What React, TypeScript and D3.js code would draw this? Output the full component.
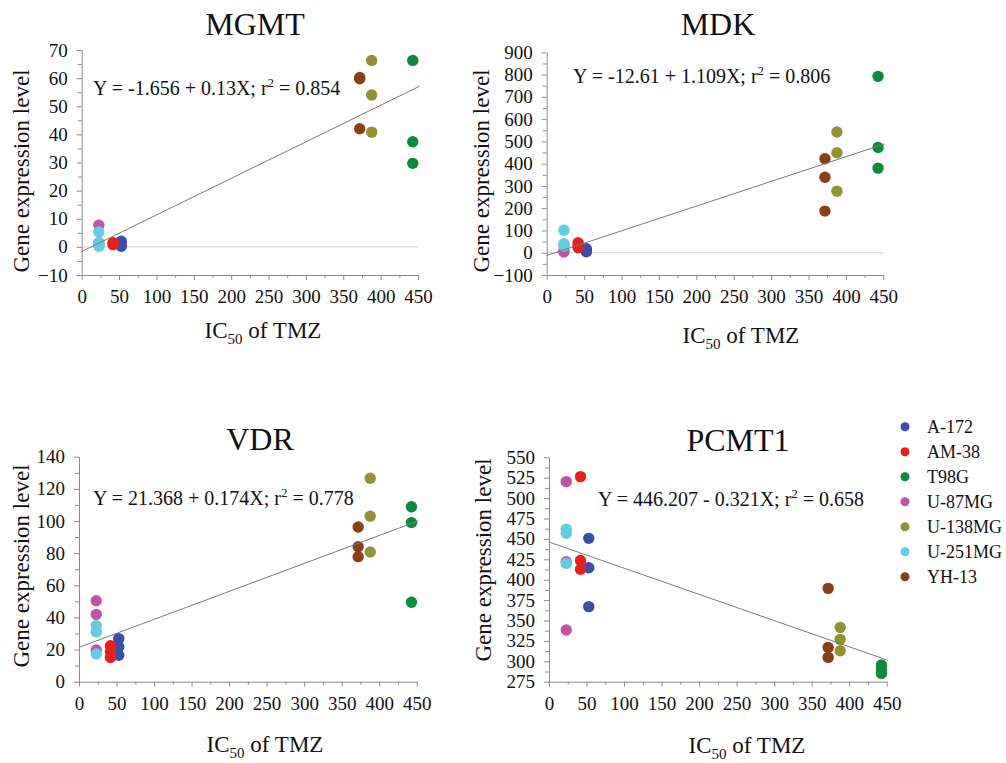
import { useEffect, useRef } from "react";
import * as d3 from "d3";

// cell lines, legend order (also draw order)
const cellLines = ["A-172", "AM-38", "T98G", "U-87MG", "U-138MG", "U-251MG", "YH-13"];
const cellColors = ["#3b4ea8", "#e8201e", "#0c8a3e", "#c153a6", "#8f9334", "#62cde0", "#8a3f17"];
// IC50 of TMZ per cell line
const ic50 = [53, 42, 443, 23, 388, 23, 372];

// gene expression replicates per cell line
const mgmtValues = [
  [2.0, 1.0, 0.2],
  [1.5, 1.0, 0.8],
  [66.3, 37.4, 29.7],
  [7.7, 1.5, 0.5],
  [66.3, 54.0, 40.8],
  [5.3, 1.3, 0.2],
  [60.2, 59.8, 42.0],
];
const mdkValues = [
  [18, 10, 4],
  [45, 32, 22],
  [792, 473, 380],
  [3, 8, 35],
  [542, 449, 276],
  [101, 40, 30],
  [422, 339, 187],
];
const vdrValues = [
  [26.8, 21.8, 16.4],
  [22.4, 18.7, 15.1],
  [108.9, 99.0, 49.4],
  [50.4, 41.9, 19.7],
  [126.6, 103.0, 80.7],
  [34.9, 31.0, 17.2],
  [96.3, 84.0, 77.8],
];
const pcmt1Values = [
  [450.7, 414.7, 367],
  [526.3, 423.5, 412.7],
  [295.4, 289.3, 285.2],
  [520.2, 422, 338.3],
  [341.6, 326.9, 313],
  [462, 457, 420],
  [389.4, 317, 304.8],
];

const genes = ["MGMT", "MDK", "VDR", "PCMT1"];
const geneValues = [mgmtValues, mdkValues, vdrValues, pcmt1Values];
const yDomains = [[-10, 70], [-100, 900], [0, 140], [275, 550]];
const yStep = [10, 100, 20, 25];
const intercepts = [-1.656, -12.61, 21.368, 446.207];
const slopes = [0.13, 1.109, 0.174, -0.321];
const rSquared = [0.854, 0.806, 0.778, 0.658];
const xTicks = [0, 50, 100, 150, 200, 250, 300, 350, 400, 450];

const FONT = "Liberation Serif, Times New Roman, serif";

// panel placement on the page
const layout = [
  { x0: 81.7, x1: 418, yTop: 50, yBot: 275, title: [255, 35], eq: [93, 95], ylab: [29, 171], xlab: [263, 338], zero: true },
  { x0: 546.7, x1: 883.3, yTop: 52.3, yBot: 275, title: [718, 35], eq: [573, 83], ylab: [489, 171], xlab: [741, 343], zero: true },
  { x0: 79, x1: 416.7, yTop: 456.7, yBot: 681.7, title: [260, 450], eq: [93, 505], ylab: [29, 566], xlab: [265, 752], zero: false },
  { x0: 549, x1: 886.7, yTop: 457.3, yBot: 681.7, title: [738, 450.7], eq: [598, 506], ylab: [491, 560], xlab: [747, 753], zero: false },
];

const App = () => {
  const ref = useRef<SVGSVGElement>(null);

  useEffect(() => {
    document.body.style.margin = "0";
    const svg = d3.select(ref.current).attr("font-family", FONT);
    svg.selectAll("*").remove();

    genes.forEach((gene, gi) => {
      const L = layout[gi];
      const g = svg.append("g");
      const x = d3.scaleLinear().domain([0, 450]).range([L.x0, L.x1]);
      const y = d3.scaleLinear().domain(yDomains[gi]).range([L.yBot, L.yTop]);
      const [y0, y1] = yDomains[gi];
      const step = yStep[gi];
      const yMajor = d3.range(y0, y1 + step / 2, step);
      const yMinor = d3.range(y0 + step / 2, y1, step);
      const xMinor = d3.range(25, 450, 50);

      // zero line
      if (L.zero) {
        g.append("line")
          .attr("x1", x(0)).attr("x2", x(450))
          .attr("y1", y(0)).attr("y2", y(0))
          .attr("stroke", "#d4d4d4").attr("stroke-width", 1);
      }

      // y axis
      g.append("g").attr("transform", `translate(${L.x0},0)`)
        .call(d3.axisLeft(y).tickValues(yMajor).tickSize(5).tickSizeOuter(0).tickPadding(9).tickFormat(d3.format("d")))
        .attr("font-family", FONT).attr("font-size", 19);
      g.append("g").attr("transform", `translate(${L.x0},0)`)
        .call(d3.axisLeft(y).tickValues(yMinor).tickSize(4).tickSizeOuter(0).tickFormat(() => ""))
        .select(".domain").remove();

      // x axis
      g.append("g").attr("transform", `translate(0,${L.yBot})`)
        .call(d3.axisBottom(x).tickValues(xTicks).tickSize(5).tickSizeOuter(0).tickPadding(10).tickFormat(d3.format("d")))
        .attr("font-family", FONT).attr("font-size", 19);
      g.append("g").attr("transform", `translate(0,${L.yBot})`)
        .call(d3.axisBottom(x).tickValues(xMinor).tickSize(3).tickSizeOuter(0).tickFormat(() => ""))
        .select(".domain").remove();

      g.selectAll(".domain, .tick line").attr("stroke", "#8a8a8a");
      g.selectAll(".tick text").attr("fill", "#111");

      // points
      cellLines.forEach((name, ci) => {
        g.selectAll(`.pt${ci}`)
          .data(geneValues[gi][ci])
          .enter()
          .append("circle")
          .attr("cx", x(ic50[ci]))
          .attr("cy", (d) => y(d))
          .attr("r", 5.7)
          .attr("fill", cellColors[ci]);
      });

      // regression line
      const fit = (v: number) => intercepts[gi] + slopes[gi] * v;
      g.append("path")
        .datum([0, 452])
        .attr("d", d3.line<number>().x((d) => x(d)).y((d) => y(fit(d))))
        .attr("stroke", "#7a7a7a")
        .attr("stroke-width", 1)
        .attr("fill", "none");

      // title
      g.append("text")
        .attr("x", L.title[0]).attr("y", L.title[1])
        .attr("text-anchor", "middle")
        .attr("font-size", 32)
        .attr("fill", "#111")
        .text(gene);

      // equation
      const sl = slopes[gi];
      const eq = g.append("text")
        .attr("x", L.eq[0]).attr("y", L.eq[1])
        .attr("font-size", 20)
        .attr("fill", "#111");
      eq.append("tspan").text(`Y = ${intercepts[gi]} ${sl < 0 ? "-" : "+"} ${Math.abs(sl)}X; r`);
      eq.append("tspan").attr("dy", -8).attr("font-size", 13).text("2");
      eq.append("tspan").attr("dy", 8).text(` = ${rSquared[gi]}`);

      // axis labels
      g.append("text")
        .attr("transform", `translate(${L.ylab[0]},${L.ylab[1]}) rotate(-90)`)
        .attr("text-anchor", "middle")
        .attr("font-size", 23)
        .attr("fill", "#111")
        .text("Gene expression level");

      const xl = g.append("text")
        .attr("x", L.xlab[0]).attr("y", L.xlab[1])
        .attr("text-anchor", "middle")
        .attr("font-size", 23)
        .attr("fill", "#111");
      xl.append("tspan").text("IC");
      xl.append("tspan").attr("dy", 6).attr("font-size", 15).text("50");
      xl.append("tspan").attr("dy", -6).text(" of TMZ");
    });

    // legend
    const lg = svg.append("g").attr("transform", "translate(905,426.7)");
    cellLines.forEach((name, i) => {
      lg.append("circle").attr("cx", 0).attr("cy", i * 25).attr("r", 4.5).attr("fill", cellColors[i]);
      lg.append("text")
        .attr("x", 22).attr("y", i * 25).attr("dy", "0.34em")
        .attr("font-size", 18)
        .attr("fill", "#111")
        .text(name);
    });
  }, []);

  return (
    <div>
      <svg ref={ref} width={1006} height={763} style={{ display: "block", background: "#fff" }} />
    </div>
  );
};

export default App;
